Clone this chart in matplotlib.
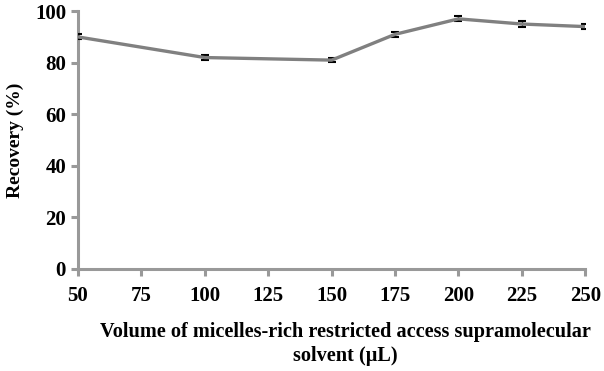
import matplotlib.pyplot as plt

# data
volume = [50, 100, 150, 175, 200, 225, 250]
recovery = [90, 82, 81, 91, 97, 95, 94]
err = [1.0, 1.0, 0.8, 1.0, 1.0, 1.0, 1.0]
x_ticks = [50, 75, 100, 125, 150, 175, 200, 225, 250]
y_ticks = [0, 20, 40, 60, 80, 100]

plt.rcParams['font.family'] = ['Liberation Serif', 'DejaVu Serif']
plt.rcParams['font.weight'] = 'bold'

fig = plt.figure(figsize=(6.04, 3.71), dpi=100)
ax = fig.add_axes([0.129, 0.275, 0.840, 0.695])

ax.errorbar(volume, recovery, yerr=err, color='#808080', lw=2.4,
            ecolor='black', elinewidth=1.0, capsize=3, capthick=1.5, zorder=3)

ax.set_xlim(50, 250)
ax.set_ylim(0, 100)
ax.set_xticks(x_ticks)
ax.set_yticks(y_ticks)

for s in ['top', 'right']:
    ax.spines[s].set_visible(False)
for s in ['left', 'bottom']:
    ax.spines[s].set_color('#999999')
    ax.spines[s].set_linewidth(2.2)
ax.tick_params(axis='both', colors='#999999', width=2.2, length=5,
               labelcolor='black', labelsize=15)
ax.tick_params(axis='x', pad=7)
for lab in ax.get_xticklabels() + ax.get_yticklabels():
    lab.set_fontweight('bold')

ax.set_ylabel('Recovery (%)', fontsize=14, fontweight='bold', labelpad=8)
ax.set_xlabel('Volume of micelles-rich restricted access supramolecular\nsolvent (\u00b5L)',
              fontsize=14.6, fontweight='bold', linespacing=1.3)
ax.xaxis.set_label_coords(0.527, -0.205, transform=ax.transAxes)
ax.xaxis.label.set_verticalalignment('top')

fig.savefig('out.png', dpi=100)
